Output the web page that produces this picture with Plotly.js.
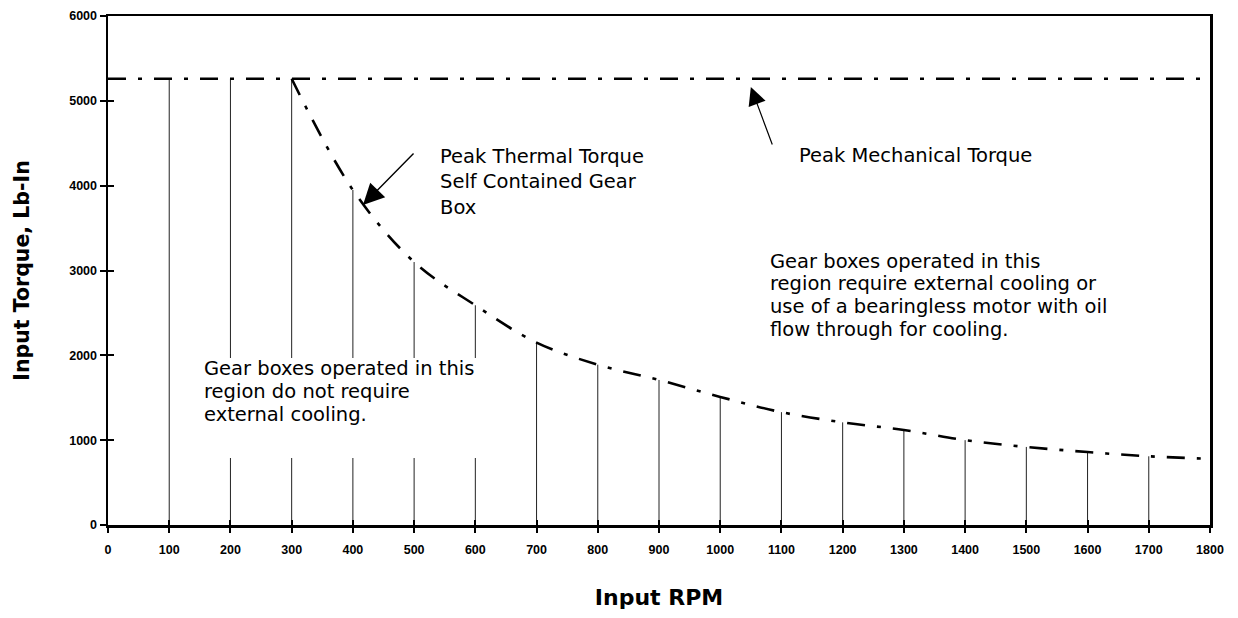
<!DOCTYPE html>
<html>
<head>
<meta charset="utf-8">
<script src="https://cdn.plot.ly/plotly-3.0.1.min.js"></script>
<style>
  html, body { margin: 0; padding: 0; background: #ffffff; }
  #chart { width: 1238px; height: 618px; }
</style>
</head>
<body>
<div id="chart"></div>
<script>
// ---- data ----
const rpmTicks = [0,100,200,300,400,500,600,700,800,900,1000,1100,1200,1300,1400,1500,1600,1700,1800];
const rpmTickLabels = ['0','100','200','300','400','500','600','700','800','900','1000','1100','1200','1300','1400','1500','1600','1700','1800'];
const torqueTicks = [0,1000,2000,3000,4000,5000,6000];
const torqueTickLabels = ['0','1000','2000','3000','4000','5000','6000'];

// Peak mechanical torque (flat line)
const mechRpm = [0, 1800];
const mechTorque = [5260, 5260];

// Peak thermal torque, self contained gear box
const thermalRpm = [300,400,500,600,700,800,900,1000,1100,1200,1300,1400,1500,1600,1700,1800];
const thermalTorque = [5260,3950,3100,2590,2150,1890,1710,1510,1330,1210,1120,1000,920,860,810,780];

// RPM values that carry a vertical drop line
const dropRpm = [100,200,300,400,500,600,700,800,900,1000,1100,1200,1300,1400,1500,1600,1700];

// ---- build drop lines from the data ----
const dropX = [], dropY = [];
dropRpm.forEach(r => {
  const i = thermalRpm.indexOf(r);
  const top = i >= 0 ? thermalTorque[i] : mechTorque[0];
  dropX.push(r, r, null);
  dropY.push(0, top, null);
});

const dash = '18px,12px,4px,12px';

const traces = [
  {
    x: dropX, y: dropY, type: 'scatter', mode: 'lines',
    line: { color: '#222222', width: 1 },
    hoverinfo: 'skip', showlegend: false
  },
  {
    x: mechRpm, y: mechTorque, type: 'scatter', mode: 'lines',
    name: 'Peak Mechanical Torque',
    line: { color: '#000000', width: 2.6, dash: dash },
    showlegend: false
  },
  {
    x: thermalRpm, y: thermalTorque, type: 'scatter', mode: 'lines',
    name: 'Peak Thermal Torque',
    line: { color: '#000000', width: 2.6, dash: dash, shape: 'spline', smoothing: 1 },
    showlegend: false
  },
  { x: [], y: [], xaxis: 'x2', yaxis: 'y2', type: 'scatter', mode: 'lines', showlegend: false, hoverinfo: 'skip' }
];

const tickFont = { family: 'Liberation Sans, Arial, sans-serif', size: 12.5, color: '#000', weight: 'bold' };
const annFont = { family: 'DejaVu Sans, sans-serif', size: 19.5, color: '#000' };

function lineAnn(x, y, text) {
  return { x: x, y: y, xref: 'x', yref: 'y', xanchor: 'left', yanchor: 'middle', align: 'left',
           text: text, showarrow: false, font: annFont };
}

const layout = {
  width: 1238, height: 618,
  margin: { l: 108, r: 28, t: 16, b: 93 },
  paper_bgcolor: '#ffffff', plot_bgcolor: '#ffffff',
  showlegend: false,
  xaxis: {
    range: [0, 1800], tickmode: 'array', tickvals: rpmTicks, ticktext: rpmTickLabels,
    ticks: 'outside', ticklen: 5, tickwidth: 2, tickcolor: '#000',
    ticklabelstandoff: 6,
    showgrid: false, zeroline: false,
    showline: true, linecolor: '#000', linewidth: 2.5, mirror: true,
    tickfont: tickFont,
    title: { text: 'Input RPM', standoff: 34,
             font: { family: 'DejaVu Sans, sans-serif', size: 22, color: '#000', weight: 'bold' } }
  },
  yaxis: {
    range: [0, 6000], tickmode: 'array', tickvals: torqueTicks, ticktext: torqueTickLabels,
    ticks: 'outside', ticklen: 6, tickwidth: 2, tickcolor: '#000',
    showgrid: false, zeroline: false,
    showline: true, linecolor: '#000', linewidth: 2.5, mirror: true,
    tickfont: tickFont,
    title: { text: 'Input Torque, Lb-In', standoff: 34,
             font: { family: 'DejaVu Sans, sans-serif', size: 20.5, color: '#000', weight: 'bold' } }
  },
  xaxis2: {
    overlaying: 'x', anchor: 'y', side: 'bottom', range: [0, 1800],
    tickmode: 'array', tickvals: rpmTicks, ticks: 'inside', ticklen: 5, tickwidth: 2, tickcolor: '#000',
    showticklabels: false, showgrid: false, zeroline: false, showline: false
  },
  yaxis2: {
    overlaying: 'y', anchor: 'x', side: 'left', range: [0, 6000],
    tickmode: 'array', tickvals: torqueTicks, ticks: 'inside', ticklen: 6, tickwidth: 2, tickcolor: '#000',
    showticklabels: false, showgrid: false, zeroline: false, showline: false
  },
  shapes: [
    { type: 'rect', xref: 'x', yref: 'y', x0: 126, x1: 611, y0: 790, y1: 1968,
      fillcolor: '#ffffff', line: { width: 0 }, layer: 'above' }
  ],
  annotations: [
    { x: 539, y: 4043, xref: 'x', yref: 'y', xanchor: 'left', yanchor: 'middle', align: 'left',
      text: 'Peak Thermal Torque<br>Self Contained Gear<br>Box', showarrow: false, font: annFont },
    { x: 416.5, y: 3772, xref: 'x', yref: 'y', text: '', showarrow: true,
      ax: 52, ay: -53, arrowhead: 2, arrowsize: 3, arrowwidth: 1.4, arrowcolor: '#000' },

    lineAnn(1125, 4350, 'Peak Mechanical Torque'),
    { x: 1050, y: 5163, xref: 'x', yref: 'y', text: '', showarrow: true,
      ax: 22, ay: 59, arrowhead: 2, arrowsize: 3, arrowwidth: 1.2, arrowcolor: '#000' },

    lineAnn(153.5, 1839, 'Gear boxes operated in this'),
    lineAnn(153.5, 1568, 'region do not require'),
    lineAnn(153.5, 1297, 'external cooling.'),

    lineAnn(1078, 3112, 'Gear boxes operated in this'),
    lineAnn(1078, 2841, 'region require external cooling or'),
    lineAnn(1078, 2570, 'use of a bearingless motor with oil'),
    lineAnn(1078, 2299, 'flow through for cooling.')
  ]
};

Plotly.newPlot('chart', traces, layout, { staticPlot: true, displayModeBar: false });
</script>
</body>
</html>
